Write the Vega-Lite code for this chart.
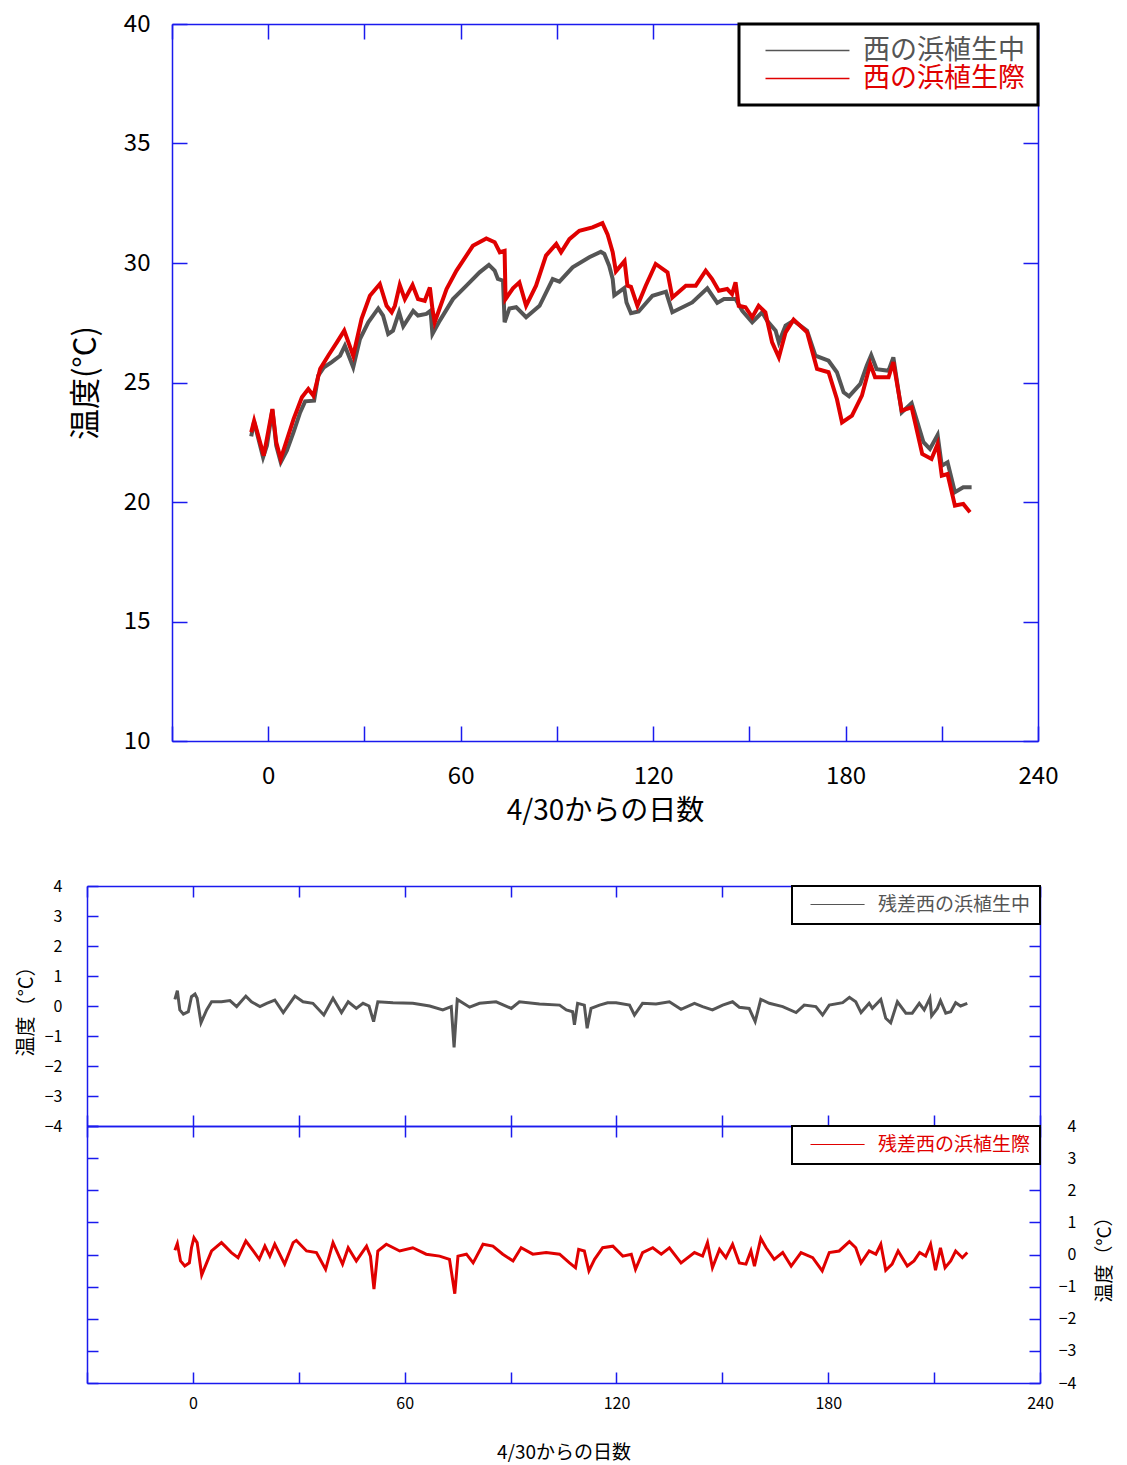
{
  "$schema": "https://vega.github.io/schema/vega-lite/v6.json",
  "padding": {"left": 16, "top": 12, "right": 0, "bottom": 0},
  "background": "white",
  "config": {
    "view": {"stroke": null},
    "font": "Noto Sans CJK JP",
    "axis": {
      "domainColor": "#1a1aee", "tickColor": "#1a1aee", "domainWidth": 1.5, "tickWidth": 1.5,
      "grid": false, "labelColor": "black", "titleColor": "black", "titleFontWeight": "normal",
      "labelFont": "Noto Sans CJK JP", "titleFont": "Noto Sans CJK JP", "labelFlush": false, "labelOverlap": false
    },
    "legend": {"labelFont": "Noto Sans CJK JP"}
  },
  "datasets": {
    "temp": [
      {"d": -5.3, "t": 22.75, "s": "西の浜植生中"}, {"d": -4.4, "t": 23.36, "s": "西の浜植生中"}, {"d": -1.6, "t": 21.87, "s": "西の浜植生中"},
      {"d": -0.4, "t": 22.36, "s": "西の浜植生中"}, {"d": 1.3, "t": 23.86, "s": "西の浜植生中"}, {"d": 2.5, "t": 22.36, "s": "西の浜植生中"},
      {"d": 3.9, "t": 21.66, "s": "西の浜植生中"}, {"d": 5.8, "t": 22.15, "s": "西の浜植生中"}, {"d": 7.9, "t": 22.92, "s": "西の浜植生中"},
      {"d": 9.95, "t": 23.75, "s": "西の浜植生中"}, {"d": 11.5, "t": 24.21, "s": "西の浜植生中"}, {"d": 14.3, "t": 24.24, "s": "西の浜植生中"},
      {"d": 15.6, "t": 25.29, "s": "西の浜植生中"}, {"d": 17.4, "t": 25.64, "s": "西の浜植生中"}, {"d": 19.8, "t": 25.85, "s": "西の浜植生中"},
      {"d": 22.4, "t": 26.12, "s": "西の浜植生中"}, {"d": 23.9, "t": 26.54, "s": "西の浜植生中"}, {"d": 26.5, "t": 25.64, "s": "西の浜植生中"},
      {"d": 28.6, "t": 26.82, "s": "西の浜植生中"}, {"d": 31.2, "t": 27.52, "s": "西の浜植生中"}, {"d": 34.3, "t": 28.1, "s": "西の浜植生中"},
      {"d": 35.8, "t": 27.8, "s": "西の浜植生中"}, {"d": 37.4, "t": 27.03, "s": "西の浜植生中"}, {"d": 38.9, "t": 27.17, "s": "西の浜植生中"},
      {"d": 40.8, "t": 27.94, "s": "西の浜植生中"}, {"d": 42.1, "t": 27.35, "s": "西の浜植生中"}, {"d": 45.2, "t": 28.0, "s": "西の浜植生中"},
      {"d": 46.7, "t": 27.8, "s": "西の浜植生中"}, {"d": 49.3, "t": 27.87, "s": "西の浜植生中"}, {"d": 50.6, "t": 28.0, "s": "西の浜植生中"},
      {"d": 51.2, "t": 27.03, "s": "西の浜植生中"}, {"d": 53.5, "t": 27.59, "s": "西の浜植生中"}, {"d": 57.6, "t": 28.49, "s": "西の浜植生中"},
      {"d": 61.8, "t": 29.05, "s": "西の浜植生中"}, {"d": 65.9, "t": 29.61, "s": "西の浜植生中"}, {"d": 68.8, "t": 29.92, "s": "西の浜植生中"},
      {"d": 70.6, "t": 29.68, "s": "西の浜植生中"}, {"d": 71.6, "t": 29.33, "s": "西の浜植生中"}, {"d": 73.2, "t": 29.26, "s": "西の浜植生中"},
      {"d": 73.7, "t": 27.52, "s": "西の浜植生中"}, {"d": 75.2, "t": 28.1, "s": "西の浜植生中"}, {"d": 77.3, "t": 28.15, "s": "西の浜植生中"},
      {"d": 80.4, "t": 27.73, "s": "西の浜植生中"}, {"d": 84.6, "t": 28.21, "s": "西の浜植生中"}, {"d": 88.7, "t": 29.33, "s": "西の浜植生中"},
      {"d": 90.8, "t": 29.22, "s": "西の浜植生中"}, {"d": 94.9, "t": 29.82, "s": "西の浜植生中"}, {"d": 100.1, "t": 30.24, "s": "西の浜植生中"},
      {"d": 103.7, "t": 30.47, "s": "西の浜植生中"}, {"d": 104.8, "t": 30.38, "s": "西の浜植生中"}, {"d": 106.3, "t": 29.89, "s": "西の浜植生中"},
      {"d": 107.4, "t": 29.33, "s": "西の浜植生中"}, {"d": 107.9, "t": 28.65, "s": "西の浜植生中"}, {"d": 111.0, "t": 28.95, "s": "西の浜植生中"},
      {"d": 111.7, "t": 28.35, "s": "西の浜植生中"}, {"d": 113.1, "t": 27.9, "s": "西の浜植生中"}, {"d": 115.5, "t": 27.97, "s": "西の浜植生中"},
      {"d": 119.8, "t": 28.63, "s": "西の浜植生中"}, {"d": 124.0, "t": 28.8, "s": "西の浜植生中"}, {"d": 126.0, "t": 27.94, "s": "西の浜植生中"},
      {"d": 132.2, "t": 28.35, "s": "西の浜植生中"}, {"d": 136.9, "t": 28.94, "s": "西の浜植生中"}, {"d": 140.0, "t": 28.33, "s": "西の浜植生中"},
      {"d": 142.1, "t": 28.49, "s": "西の浜植生中"}, {"d": 145.7, "t": 28.49, "s": "西の浜植生中"}, {"d": 147.8, "t": 28.0, "s": "西の浜植生中"},
      {"d": 150.9, "t": 27.52, "s": "西の浜植生中"}, {"d": 154.0, "t": 27.94, "s": "西の浜植生中"}, {"d": 155.5, "t": 27.59, "s": "西の浜植生中"},
      {"d": 158.2, "t": 27.17, "s": "西の浜植生中"}, {"d": 159.2, "t": 26.68, "s": "西の浜植生中"}, {"d": 161.3, "t": 27.38, "s": "西の浜植生中"},
      {"d": 163.8, "t": 27.59, "s": "西の浜植生中"}, {"d": 168.0, "t": 27.17, "s": "西の浜植生中"}, {"d": 170.6, "t": 26.12, "s": "西の浜植生中"},
      {"d": 174.7, "t": 25.91, "s": "西の浜植生中"}, {"d": 177.3, "t": 25.43, "s": "西の浜植生中"}, {"d": 179.4, "t": 24.59, "s": "西の浜植生中"},
      {"d": 181.1, "t": 24.42, "s": "西の浜植生中"}, {"d": 184.6, "t": 24.94, "s": "西の浜植生中"}, {"d": 186.6, "t": 25.7, "s": "西の浜植生中"},
      {"d": 188.0, "t": 26.15, "s": "西の浜植生中"}, {"d": 189.7, "t": 25.56, "s": "西の浜植生中"}, {"d": 193.4, "t": 25.49, "s": "西の浜植生中"},
      {"d": 194.9, "t": 26.05, "s": "西の浜植生中"}, {"d": 197.5, "t": 23.75, "s": "西の浜植生中"}, {"d": 200.6, "t": 24.14, "s": "西の浜植生中"},
      {"d": 204.3, "t": 22.5, "s": "西の浜植生中"}, {"d": 206.3, "t": 22.22, "s": "西の浜植生中"}, {"d": 208.7, "t": 22.8, "s": "西の浜植生中"},
      {"d": 210.0, "t": 21.52, "s": "西の浜植生中"}, {"d": 211.8, "t": 21.66, "s": "西の浜植生中"}, {"d": 214.1, "t": 20.41, "s": "西の浜植生中"},
      {"d": 216.7, "t": 20.62, "s": "西の浜植生中"}, {"d": 219.3, "t": 20.62, "s": "西の浜植生中"},
      {"d": -5.3, "t": 22.92, "s": "西の浜植生際"}, {"d": -4.4, "t": 23.4, "s": "西の浜植生際"}, {"d": -1.4, "t": 21.94, "s": "西の浜植生際"},
      {"d": 1.3, "t": 23.89, "s": "西の浜植生際"}, {"d": 2.5, "t": 22.5, "s": "西の浜植生際"}, {"d": 3.9, "t": 21.8, "s": "西の浜植生際"},
      {"d": 7.9, "t": 23.47, "s": "西の浜植生際"}, {"d": 10.5, "t": 24.38, "s": "西の浜植生際"}, {"d": 12.5, "t": 24.73, "s": "西の浜植生際"},
      {"d": 14.1, "t": 24.45, "s": "西の浜植生際"}, {"d": 16.2, "t": 25.57, "s": "西の浜植生際"}, {"d": 18.7, "t": 26.12, "s": "西の浜植生際"},
      {"d": 21.4, "t": 26.68, "s": "西の浜植生際"}, {"d": 23.7, "t": 27.17, "s": "西の浜植生際"}, {"d": 26.5, "t": 26.12, "s": "西の浜植生際"},
      {"d": 29.1, "t": 27.66, "s": "西の浜植生際"}, {"d": 31.7, "t": 28.63, "s": "西の浜植生際"}, {"d": 34.8, "t": 29.12, "s": "西の浜植生際"},
      {"d": 36.9, "t": 28.21, "s": "西の浜植生際"}, {"d": 38.5, "t": 27.94, "s": "西の浜植生際"}, {"d": 39.5, "t": 28.21, "s": "西の浜植生際"},
      {"d": 41.0, "t": 29.08, "s": "西の浜植生際"}, {"d": 42.6, "t": 28.49, "s": "西の浜植生際"}, {"d": 45.0, "t": 29.08, "s": "西の浜植生際"},
      {"d": 46.7, "t": 28.49, "s": "西の浜植生際"}, {"d": 48.8, "t": 28.42, "s": "西の浜植生際"}, {"d": 50.4, "t": 28.98, "s": "西の浜植生際"},
      {"d": 51.2, "t": 28.08, "s": "西の浜植生際"}, {"d": 51.9, "t": 27.52, "s": "西の浜植生際"}, {"d": 55.6, "t": 28.91, "s": "西の浜植生際"},
      {"d": 58.7, "t": 29.68, "s": "西の浜植生際"}, {"d": 63.8, "t": 30.72, "s": "西の浜植生際"}, {"d": 68.0, "t": 31.03, "s": "西の浜植生際"},
      {"d": 70.6, "t": 30.87, "s": "西の浜植生際"}, {"d": 72.2, "t": 30.45, "s": "西の浜植生際"}, {"d": 73.7, "t": 30.51, "s": "西の浜植生際"},
      {"d": 74.0, "t": 28.49, "s": "西の浜植生際"}, {"d": 76.3, "t": 28.94, "s": "西の浜植生際"}, {"d": 78.3, "t": 29.19, "s": "西の浜植生際"},
      {"d": 80.4, "t": 28.21, "s": "西の浜植生際"}, {"d": 83.5, "t": 29.05, "s": "西の浜植生際"}, {"d": 86.6, "t": 30.31, "s": "西の浜植生際"},
      {"d": 89.8, "t": 30.8, "s": "西の浜植生際"}, {"d": 91.3, "t": 30.45, "s": "西の浜植生際"}, {"d": 93.9, "t": 31.0, "s": "西の浜植生際"},
      {"d": 97.0, "t": 31.35, "s": "西の浜植生際"}, {"d": 101.1, "t": 31.49, "s": "西の浜植生際"}, {"d": 104.2, "t": 31.67, "s": "西の浜植生際"},
      {"d": 105.8, "t": 31.2, "s": "西の浜植生際"}, {"d": 107.4, "t": 30.45, "s": "西の浜植生際"}, {"d": 108.4, "t": 29.65, "s": "西の浜植生際"},
      {"d": 111.1, "t": 30.08, "s": "西の浜植生際"}, {"d": 112.0, "t": 29.05, "s": "西の浜植生際"}, {"d": 113.1, "t": 29.0, "s": "西の浜植生際"},
      {"d": 115.1, "t": 28.21, "s": "西の浜植生際"}, {"d": 117.7, "t": 29.05, "s": "西の浜植生際"}, {"d": 120.8, "t": 29.96, "s": "西の浜植生際"},
      {"d": 124.5, "t": 29.61, "s": "西の浜植生際"}, {"d": 126.0, "t": 28.56, "s": "西の浜植生際"}, {"d": 130.2, "t": 29.05, "s": "西の浜植生際"},
      {"d": 133.3, "t": 29.05, "s": "西の浜植生際"}, {"d": 136.4, "t": 29.68, "s": "西の浜植生際"}, {"d": 138.4, "t": 29.33, "s": "西の浜植生際"},
      {"d": 140.5, "t": 28.84, "s": "西の浜植生際"}, {"d": 143.1, "t": 28.91, "s": "西の浜植生際"}, {"d": 144.6, "t": 28.7, "s": "西の浜植生際"},
      {"d": 145.7, "t": 29.19, "s": "西の浜植生際"}, {"d": 146.7, "t": 28.21, "s": "西の浜植生際"}, {"d": 148.8, "t": 28.15, "s": "西の浜植生際"},
      {"d": 150.9, "t": 27.73, "s": "西の浜植生際"}, {"d": 152.9, "t": 28.21, "s": "西の浜植生際"}, {"d": 155.0, "t": 27.94, "s": "西の浜植生際"},
      {"d": 157.1, "t": 26.68, "s": "西の浜植生際"}, {"d": 159.2, "t": 26.05, "s": "西の浜植生際"}, {"d": 161.3, "t": 27.1, "s": "西の浜植生際"},
      {"d": 163.8, "t": 27.63, "s": "西の浜植生際"}, {"d": 168.0, "t": 27.1, "s": "西の浜植生際"}, {"d": 171.1, "t": 25.57, "s": "西の浜植生際"},
      {"d": 174.7, "t": 25.43, "s": "西の浜植生際"}, {"d": 177.3, "t": 24.31, "s": "西の浜植生際"}, {"d": 178.9, "t": 23.33, "s": "西の浜植生際"},
      {"d": 182.0, "t": 23.61, "s": "西の浜植生際"}, {"d": 185.1, "t": 24.45, "s": "西の浜植生際"}, {"d": 187.7, "t": 25.77, "s": "西の浜植生際"},
      {"d": 189.2, "t": 25.22, "s": "西の浜植生際"}, {"d": 193.4, "t": 25.22, "s": "西の浜植生際"}, {"d": 194.9, "t": 25.85, "s": "西の浜植生際"},
      {"d": 197.5, "t": 23.82, "s": "西の浜植生際"}, {"d": 200.6, "t": 23.96, "s": "西の浜植生際"}, {"d": 203.9, "t": 22.01, "s": "西の浜植生際"},
      {"d": 206.8, "t": 21.8, "s": "西の浜植生際"}, {"d": 208.7, "t": 22.43, "s": "西の浜植生際"}, {"d": 210.0, "t": 21.1, "s": "西の浜植生際"},
      {"d": 211.8, "t": 21.17, "s": "西の浜植生際"}, {"d": 214.1, "t": 19.85, "s": "西の浜植生際"}, {"d": 216.7, "t": 19.92, "s": "西の浜植生際"},
      {"d": 218.8, "t": 19.57, "s": "西の浜植生際"}
    ],
    "res1": [
      {"d": -5.1, "v": 0.22, "s": "残差西の浜植生中"}, {"d": -4.4, "v": 0.51, "s": "残差西の浜植生中"}, {"d": -3.7, "v": -0.13, "s": "残差西の浜植生中"},
      {"d": -2.7, "v": -0.27, "s": "残差西の浜植生中"}, {"d": -1.3, "v": -0.19, "s": "残差西の浜植生中"}, {"d": -0.4, "v": 0.31, "s": "残差西の浜植生中"},
      {"d": 0.6, "v": 0.4, "s": "残差西の浜植生中"}, {"d": 1.2, "v": 0.26, "s": "残差西の浜植生中"}, {"d": 2.3, "v": -0.56, "s": "残差西の浜植生中"},
      {"d": 3.9, "v": -0.13, "s": "残差西の浜植生中"}, {"d": 5.3, "v": 0.14, "s": "残差西の浜植生中"}, {"d": 8.1, "v": 0.14, "s": "残差西の浜植生中"},
      {"d": 10.5, "v": 0.18, "s": "残差西の浜植生中"}, {"d": 12.4, "v": -0.02, "s": "残差西の浜植生中"}, {"d": 15.0, "v": 0.33, "s": "残差西の浜植生中"},
      {"d": 16.6, "v": 0.14, "s": "残差西の浜植生中"}, {"d": 19.0, "v": -0.02, "s": "残差西の浜植生中"}, {"d": 20.9, "v": 0.09, "s": "残差西の浜植生中"},
      {"d": 23.2, "v": 0.2, "s": "残差西の浜植生中"}, {"d": 25.6, "v": -0.22, "s": "残差西の浜植生中"}, {"d": 28.9, "v": 0.33, "s": "残差西の浜植生中"},
      {"d": 31.2, "v": 0.14, "s": "残差西の浜植生中"}, {"d": 34.0, "v": 0.09, "s": "残差西の浜植生中"}, {"d": 37.1, "v": -0.3, "s": "残差西の浜植生中"},
      {"d": 39.7, "v": 0.26, "s": "残差西の浜植生中"}, {"d": 42.1, "v": -0.22, "s": "残差西の浜植生中"}, {"d": 44.0, "v": 0.14, "s": "残差西の浜植生中"},
      {"d": 46.3, "v": -0.08, "s": "残差西の浜植生中"}, {"d": 48.2, "v": 0.09, "s": "残差西の浜植生中"}, {"d": 49.9, "v": 0.0, "s": "残差西の浜植生中"},
      {"d": 51.2, "v": -0.52, "s": "残差西の浜植生中"}, {"d": 52.4, "v": 0.14, "s": "残差西の浜植生中"}, {"d": 56.7, "v": 0.11, "s": "残差西の浜植生中"},
      {"d": 62.3, "v": 0.09, "s": "残差西の浜植生中"}, {"d": 67.1, "v": 0.0, "s": "残差西の浜植生中"}, {"d": 70.8, "v": -0.13, "s": "残差西の浜植生中"},
      {"d": 73.2, "v": -0.02, "s": "残差西の浜植生中"}, {"d": 74.0, "v": -1.38, "s": "残差西の浜植生中"}, {"d": 74.9, "v": 0.22, "s": "残差西の浜植生中"},
      {"d": 78.4, "v": -0.04, "s": "残差西の浜植生中"}, {"d": 81.2, "v": 0.09, "s": "残差西の浜植生中"}, {"d": 85.9, "v": 0.14, "s": "残差西の浜植生中"},
      {"d": 90.2, "v": -0.08, "s": "残差西の浜植生中"}, {"d": 92.5, "v": 0.14, "s": "残差西の浜植生中"}, {"d": 98.2, "v": 0.07, "s": "残差西の浜植生中"},
      {"d": 103.9, "v": 0.03, "s": "残差西の浜植生中"}, {"d": 105.8, "v": -0.13, "s": "残差西の浜植生中"}, {"d": 107.6, "v": -0.19, "s": "残差西の浜植生中"},
      {"d": 108.1, "v": -0.63, "s": "残差西の浜植生中"}, {"d": 109.0, "v": 0.09, "s": "残差西の浜植生中"}, {"d": 110.9, "v": 0.03, "s": "残差西の浜植生中"},
      {"d": 111.7, "v": -0.74, "s": "残差西の浜植生中"}, {"d": 112.8, "v": -0.08, "s": "残差西の浜植生中"}, {"d": 115.2, "v": 0.03, "s": "残差西の浜植生中"},
      {"d": 117.5, "v": 0.11, "s": "残差西の浜植生中"}, {"d": 119.9, "v": 0.11, "s": "残差西の浜植生中"}, {"d": 123.7, "v": 0.03, "s": "残差西の浜植生中"},
      {"d": 125.1, "v": -0.3, "s": "残差西の浜植生中"}, {"d": 127.4, "v": 0.09, "s": "残差西の浜植生中"}, {"d": 131.2, "v": 0.07, "s": "残差西の浜植生中"},
      {"d": 135.0, "v": 0.14, "s": "残差西の浜植生中"}, {"d": 138.3, "v": -0.11, "s": "残差西の浜植生中"}, {"d": 142.1, "v": 0.09, "s": "残差西の浜植生中"},
      {"d": 144.4, "v": -0.02, "s": "残差西の浜植生中"}, {"d": 147.2, "v": -0.13, "s": "残差西の浜植生中"}, {"d": 150.1, "v": 0.03, "s": "残差西の浜植生中"},
      {"d": 152.9, "v": 0.14, "s": "残差西の浜植生中"}, {"d": 154.8, "v": -0.04, "s": "残差西の浜植生中"}, {"d": 157.6, "v": -0.08, "s": "残差西の浜植生中"},
      {"d": 159.3, "v": -0.52, "s": "残差西の浜植生中"}, {"d": 160.9, "v": 0.22, "s": "残差西の浜植生中"}, {"d": 163.3, "v": 0.09, "s": "残差西の浜植生中"},
      {"d": 167.1, "v": -0.02, "s": "残差西の浜植生中"}, {"d": 170.9, "v": -0.22, "s": "残差西の浜植生中"}, {"d": 173.2, "v": 0.03, "s": "残差西の浜植生中"},
      {"d": 176.5, "v": -0.02, "s": "残差西の浜植生中"}, {"d": 178.4, "v": -0.3, "s": "残差西の浜植生中"}, {"d": 180.3, "v": 0.03, "s": "残差西の浜植生中"},
      {"d": 184.1, "v": 0.11, "s": "残差西の浜植生中"}, {"d": 186.0, "v": 0.29, "s": "残差西の浜植生中"}, {"d": 187.8, "v": 0.14, "s": "残差西の浜植生中"},
      {"d": 189.3, "v": -0.22, "s": "残差西の浜植生中"}, {"d": 191.6, "v": 0.09, "s": "残差西の浜植生中"}, {"d": 192.5, "v": -0.08, "s": "残差西の浜植生中"},
      {"d": 194.9, "v": 0.22, "s": "残差西の浜植生中"}, {"d": 196.3, "v": -0.41, "s": "残差西の浜植生中"}, {"d": 197.7, "v": -0.56, "s": "残差西の浜植生中"},
      {"d": 199.6, "v": 0.14, "s": "残差西の浜植生中"}, {"d": 202.0, "v": -0.24, "s": "残差西の浜植生中"}, {"d": 203.8, "v": -0.24, "s": "残差西の浜植生中"},
      {"d": 205.8, "v": 0.09, "s": "残差西の浜植生中"}, {"d": 207.2, "v": -0.13, "s": "残差西の浜植生中"}, {"d": 208.8, "v": 0.26, "s": "残差西の浜植生中"},
      {"d": 209.3, "v": -0.33, "s": "残差西の浜植生中"}, {"d": 210.9, "v": -0.08, "s": "残差西の浜植生中"}, {"d": 211.8, "v": 0.18, "s": "残差西の浜植生中"},
      {"d": 213.3, "v": -0.24, "s": "残差西の浜植生中"}, {"d": 214.7, "v": -0.19, "s": "残差西の浜植生中"}, {"d": 216.1, "v": 0.11, "s": "残差西の浜植生中"},
      {"d": 217.5, "v": 0.0, "s": "残差西の浜植生中"}, {"d": 219.4, "v": 0.09, "s": "残差西の浜植生中"}
    ],
    "res2": [
      {"d": -5.1, "v": 0.13, "s": "残差西の浜植生際"}, {"d": -4.4, "v": 0.34, "s": "残差西の浜植生際"}, {"d": -3.5, "v": -0.2, "s": "残差西の浜植生際"},
      {"d": -2.3, "v": -0.36, "s": "残差西の浜植生際"}, {"d": -1.0, "v": -0.26, "s": "残差西の浜植生際"}, {"d": -0.4, "v": 0.21, "s": "残差西の浜植生際"},
      {"d": 0.3, "v": 0.52, "s": "残差西の浜植生際"}, {"d": 1.2, "v": 0.37, "s": "残差西の浜植生際"}, {"d": 2.5, "v": -0.64, "s": "残差西の浜植生際"},
      {"d": 3.9, "v": -0.26, "s": "残差西の浜植生際"}, {"d": 5.3, "v": 0.11, "s": "残差西の浜植生際"}, {"d": 8.1, "v": 0.37, "s": "残差西の浜植生際"},
      {"d": 9.1, "v": 0.26, "s": "残差西の浜植生際"}, {"d": 10.9, "v": 0.06, "s": "残差西の浜植生際"}, {"d": 12.8, "v": -0.1, "s": "残差西の浜植生際"},
      {"d": 15.0, "v": 0.42, "s": "残差西の浜植生際"}, {"d": 17.1, "v": 0.11, "s": "残差西の浜植生際"}, {"d": 18.8, "v": -0.15, "s": "残差西の浜植生際"},
      {"d": 20.4, "v": 0.26, "s": "残差西の浜植生際"}, {"d": 21.8, "v": -0.05, "s": "残差西の浜植生際"}, {"d": 23.2, "v": 0.32, "s": "残差西の浜植生際"},
      {"d": 26.0, "v": -0.3, "s": "残差西の浜植生際"}, {"d": 28.4, "v": 0.37, "s": "残差西の浜植生際"}, {"d": 29.3, "v": 0.44, "s": "残差西の浜植生際"},
      {"d": 32.2, "v": 0.11, "s": "残差西の浜植生際"}, {"d": 35.0, "v": 0.06, "s": "残差西の浜植生際"}, {"d": 37.6, "v": -0.46, "s": "残差西の浜植生際"},
      {"d": 39.7, "v": 0.37, "s": "残差西の浜植生際"}, {"d": 42.4, "v": -0.3, "s": "残差西の浜植生際"}, {"d": 44.0, "v": 0.21, "s": "残差西の浜植生際"},
      {"d": 46.3, "v": -0.2, "s": "残差西の浜植生際"}, {"d": 49.2, "v": 0.26, "s": "残差西の浜植生際"}, {"d": 50.3, "v": -0.05, "s": "残差西の浜植生際"},
      {"d": 51.3, "v": -1.08, "s": "残差西の浜植生際"}, {"d": 52.4, "v": 0.11, "s": "残差西の浜植生際"}, {"d": 54.8, "v": 0.32, "s": "残差西の浜植生際"},
      {"d": 58.6, "v": 0.11, "s": "残差西の浜植生際"}, {"d": 62.3, "v": 0.21, "s": "残差西の浜植生際"}, {"d": 66.1, "v": 0.01, "s": "残差西の浜植生際"},
      {"d": 69.9, "v": -0.05, "s": "残差西の浜植生際"}, {"d": 72.7, "v": -0.15, "s": "残差西の浜植生際"}, {"d": 74.2, "v": -1.22, "s": "残差西の浜植生際"},
      {"d": 75.1, "v": -0.05, "s": "残差西の浜植生際"}, {"d": 77.5, "v": 0.01, "s": "残差西の浜植生際"}, {"d": 79.4, "v": -0.26, "s": "残差西の浜植生際"},
      {"d": 82.2, "v": 0.32, "s": "残差西の浜植生際"}, {"d": 85.0, "v": 0.26, "s": "残差西の浜植生際"}, {"d": 87.8, "v": 0.01, "s": "残差西の浜植生際"},
      {"d": 90.7, "v": -0.2, "s": "残差西の浜植生際"}, {"d": 93.0, "v": 0.21, "s": "残差西の浜植生際"}, {"d": 96.3, "v": 0.01, "s": "残差西の浜植生際"},
      {"d": 100.1, "v": 0.06, "s": "残差西の浜植生際"}, {"d": 103.9, "v": 0.01, "s": "残差西の浜植生際"}, {"d": 106.7, "v": -0.26, "s": "残差西の浜植生際"},
      {"d": 108.4, "v": -0.41, "s": "残差西の浜植生際"}, {"d": 109.3, "v": 0.16, "s": "残差西の浜植生際"}, {"d": 110.9, "v": 0.11, "s": "残差西の浜植生際"},
      {"d": 112.2, "v": -0.51, "s": "残差西の浜植生際"}, {"d": 113.8, "v": -0.15, "s": "残差西の浜植生際"}, {"d": 116.1, "v": 0.21, "s": "残差西の浜植生際"},
      {"d": 119.0, "v": 0.26, "s": "残差西の浜植生際"}, {"d": 121.8, "v": -0.05, "s": "残差西の浜植生際"}, {"d": 124.2, "v": 0.01, "s": "残差西の浜植生際"},
      {"d": 125.4, "v": -0.46, "s": "残差西の浜植生際"}, {"d": 127.4, "v": 0.06, "s": "残差西の浜植生際"}, {"d": 130.3, "v": 0.21, "s": "残差西の浜植生際"},
      {"d": 132.7, "v": 0.01, "s": "残差西の浜植生際"}, {"d": 135.0, "v": 0.21, "s": "残差西の浜植生際"}, {"d": 138.3, "v": -0.26, "s": "残差西の浜植生際"},
      {"d": 142.1, "v": 0.06, "s": "残差西の浜植生際"}, {"d": 144.4, "v": -0.05, "s": "残差西の浜植生際"}, {"d": 145.8, "v": 0.37, "s": "残差西の浜植生際"},
      {"d": 147.2, "v": -0.41, "s": "残差西の浜植生際"}, {"d": 149.2, "v": 0.16, "s": "残差西の浜植生際"}, {"d": 151.0, "v": -0.1, "s": "残差西の浜植生際"},
      {"d": 152.9, "v": 0.32, "s": "残差西の浜植生際"}, {"d": 154.8, "v": -0.26, "s": "残差西の浜植生際"}, {"d": 156.7, "v": -0.3, "s": "残差西の浜植生際"},
      {"d": 158.1, "v": 0.11, "s": "残差西の浜植生際"}, {"d": 159.1, "v": -0.36, "s": "残差西の浜植生際"}, {"d": 160.9, "v": 0.5, "s": "残差西の浜植生際"},
      {"d": 162.4, "v": 0.21, "s": "残差西の浜植生際"}, {"d": 164.7, "v": -0.15, "s": "残差西の浜植生際"}, {"d": 167.1, "v": 0.06, "s": "残差西の浜植生際"},
      {"d": 169.5, "v": -0.36, "s": "残差西の浜植生際"}, {"d": 172.3, "v": 0.06, "s": "残差西の浜植生際"}, {"d": 175.6, "v": -0.1, "s": "残差西の浜植生際"},
      {"d": 178.3, "v": -0.51, "s": "残差西の浜植生際"}, {"d": 180.3, "v": 0.06, "s": "残差西の浜植生際"}, {"d": 183.1, "v": 0.11, "s": "残差西の浜植生際"},
      {"d": 186.0, "v": 0.4, "s": "残差西の浜植生際"}, {"d": 187.8, "v": 0.21, "s": "残差西の浜植生際"}, {"d": 189.3, "v": -0.26, "s": "残差西の浜植生際"},
      {"d": 191.6, "v": 0.11, "s": "残差西の浜植生際"}, {"d": 193.5, "v": 0.01, "s": "残差西の浜植生際"}, {"d": 194.9, "v": 0.32, "s": "残差西の浜植生際"},
      {"d": 196.3, "v": -0.49, "s": "残差西の浜植生際"}, {"d": 198.1, "v": -0.3, "s": "残差西の浜植生際"}, {"d": 199.8, "v": 0.11, "s": "残差西の浜植生際"},
      {"d": 202.4, "v": -0.36, "s": "残差西の浜植生際"}, {"d": 204.3, "v": -0.2, "s": "残差西の浜植生際"}, {"d": 205.9, "v": 0.06, "s": "残差西の浜植生際"},
      {"d": 207.6, "v": -0.05, "s": "残差西の浜植生際"}, {"d": 209.0, "v": 0.32, "s": "残差西の浜植生際"}, {"d": 210.4, "v": -0.49, "s": "残差西の浜植生際"},
      {"d": 211.8, "v": 0.21, "s": "残差西の浜植生際"}, {"d": 213.1, "v": -0.41, "s": "残差西の浜植生際"}, {"d": 214.7, "v": -0.2, "s": "残差西の浜植生際"},
      {"d": 216.1, "v": 0.11, "s": "残差西の浜植生際"}, {"d": 218.0, "v": -0.1, "s": "残差西の浜植生際"}, {"d": 219.4, "v": 0.06, "s": "残差西の浜植生際"}
    ]
  },
  "concat": [
    {
      "hconcat": [
        {"width": 85, "height": 717, "data": {"values": []}, "mark": "point"},
        {
          "width": 866,
          "height": 717,
          "data": {"name": "temp"},
          "layer": [
            {
              "mark": {"type": "line", "strokeWidth": 4},
              "encoding": {
                "x": {"field": "d", "type": "quantitative", "scale": {"domain": [-30, 240], "nice": false, "zero": false},
                  "axis": {"orient": "bottom", "values": [-30, 0, 30, 60, 90, 120, 150, 180, 210, 240],
                    "labelExpr": "datum.value >= 0 && datum.value % 60 == 0 ? datum.label : ''",
                    "tickSize": -15, "labelPadding": 38, "labelFontSize": 24, "title": "4/30からの日数", "titleFontSize": 28, "titlePadding": 9}},
                "y": {"field": "t", "type": "quantitative", "scale": {"domain": [10, 40], "nice": false, "zero": false},
                  "axis": {"orient": "left", "values": [10, 15, 20, 25, 30, 35, 40], "tickSize": -15, "labelPadding": 37, "labelFontSize": 24,
                    "title": "温度(°C)", "titleFontSize": 31, "titlePadding": 21}},
                "color": {"field": "s", "type": "nominal",
                  "scale": {"domain": ["西の浜植生中", "西の浜植生際"], "range": ["#555555", "#e00000"]},
                  "legend": {"orient": "top-right", "offset": 0, "title": null, "strokeColor": "black", "fillColor": "white",
                    "padding": 13, "labelFontSize": 27, "labelLimit": 0, "symbolType": "M0,0H10", "symbolSize": 282,
                    "symbolStrokeWidth": 1.5, "labelOffset": 84, "rowPadding": 0,
                    "encode": {
                      "legend": {"update": {"strokeWidth": {"value": 3}}},
                      "labels": {"update": {"fill": {"signal": "datum.label == '西の浜植生際' ? '#e00000' : '#555555'"}}}
                    }}}
              }
            },
            {
              "mark": {"type": "line", "opacity": 0},
              "encoding": {
                "x": {"field": "d", "type": "quantitative",
                  "axis": {"orient": "top", "values": [-30, 0, 30, 60, 90, 120, 150, 180, 210, 240], "labels": false, "tickSize": -15, "title": null}},
                "y": {"field": "t", "type": "quantitative",
                  "axis": {"orient": "right", "values": [10, 15, 20, 25, 30, 35, 40], "labels": false, "tickSize": -15, "title": null}},
                "detail": {"field": "s"}
              }
            }
          ],
          "resolve": {"axis": {"x": "independent", "y": "independent"}}
        }
      ],
      "spacing": 0,
      "bounds": "flush",
      "resolve": {"scale": {"color": "independent"}, "legend": {"color": "independent"}}
    },
    {
      "vconcat": [
        {
          "width": 953,
          "height": 240,
          "data": {"name": "res1"},
          "layer": [
            {
              "mark": {"type": "line", "strokeWidth": 3},
              "encoding": {
                "x": {"field": "d", "type": "quantitative", "scale": {"domain": [-30, 240], "nice": false, "zero": false},
                  "axis": {"orient": "bottom", "values": [-30, 0, 30, 60, 90, 120, 150, 180, 210, 240], "labels": false, "tickSize": -11, "title": null}},
                "y": {"field": "v", "type": "quantitative", "scale": {"domain": [-4, 4], "nice": false, "zero": false},
                  "axis": {"orient": "left", "values": [-4, -3, -2, -1, 0, 1, 2, 3, 4], "tickSize": -11, "labelPadding": 36, "labelFontSize": 16,
                    "labelExpr": "replace(datum.label, '-', '−')",
                    "title": "温度（°C）", "titleFontSize": 20, "titlePadding": 8}},
                "color": {"field": "s", "type": "nominal",
                  "scale": {"domain": ["残差西の浜植生中"], "range": ["#555555"]},
                  "legend": {"orient": "top-right", "offset": 0, "title": null, "strokeColor": "black", "fillColor": "white",
                    "padding": 9, "labelFontSize": 19, "labelLimit": 0, "labelColor": "#555555", "symbolType": "M0,0H10", "symbolSize": 117,
                    "symbolStrokeWidth": 1.2, "labelOffset": 58,
                    "encode": {"legend": {"update": {"strokeWidth": {"value": 2}}}}}}
              }
            },
            {
              "mark": {"type": "line", "opacity": 0},
              "encoding": {
                "x": {"field": "d", "type": "quantitative",
                  "axis": {"orient": "top", "values": [-30, 0, 30, 60, 90, 120, 150, 180, 210, 240], "labels": false, "tickSize": -11, "title": null}},
                "y": {"field": "v", "type": "quantitative",
                  "axis": {"orient": "right", "values": [-4, -3, -2, -1, 0, 1, 2, 3, 4], "labels": false, "tickSize": -11, "title": null}}
              }
            }
          ],
          "resolve": {"axis": {"x": "independent", "y": "independent"}}
        },
        {
          "width": 953,
          "height": 257,
          "data": {"name": "res2"},
          "layer": [
            {
              "mark": {"type": "line", "strokeWidth": 3},
              "encoding": {
                "x": {"field": "d", "type": "quantitative", "scale": {"domain": [-30, 240], "nice": false, "zero": false},
                  "axis": {"orient": "bottom", "values": [-30, 0, 30, 60, 90, 120, 150, 180, 210, 240],
                    "labelExpr": "datum.value >= 0 && datum.value % 60 == 0 ? datum.label : ''",
                    "tickSize": -11, "labelPadding": 23, "labelFontSize": 16, "title": "4/30からの日数", "titleFontSize": 19, "titlePadding": 32}},
                "y": {"field": "v", "type": "quantitative", "scale": {"domain": [-4, 4], "nice": false, "zero": false},
                  "axis": {"orient": "right", "values": [-4, -3, -2, -1, 0, 1, 2, 3, 4], "tickSize": -11, "labelPadding": 47, "labelAlign": "right", "labelFontSize": 16,
                    "labelExpr": "replace(datum.label, '-', '−')",
                    "title": "温度（°C）", "titleFontSize": 19, "titlePadding": 19, "titleAngle": 270, "titleBaseline": "top"}},
                "color": {"field": "s", "type": "nominal",
                  "scale": {"domain": ["残差西の浜植生際"], "range": ["#e00000"]},
                  "legend": {"orient": "top-right", "offset": 0, "title": null, "strokeColor": "black", "fillColor": "white",
                    "padding": 9, "labelFontSize": 19, "labelLimit": 0, "labelColor": "#e00000", "symbolType": "M0,0H10", "symbolSize": 117,
                    "symbolStrokeWidth": 1.2, "labelOffset": 58,
                    "encode": {"legend": {"update": {"strokeWidth": {"value": 2}}}}}}
              }
            },
            {
              "mark": {"type": "line", "opacity": 0},
              "encoding": {
                "x": {"field": "d", "type": "quantitative",
                  "axis": {"orient": "top", "values": [-30, 0, 30, 60, 90, 120, 150, 180, 210, 240], "labels": false, "tickSize": -11, "title": null}},
                "y": {"field": "v", "type": "quantitative",
                  "axis": {"orient": "left", "values": [-4, -3, -2, -1, 0, 1, 2, 3, 4], "labels": false, "tickSize": -11, "title": null}}
              }
            }
          ],
          "resolve": {"axis": {"x": "independent", "y": "independent"}}
        }
      ],
      "spacing": 0,
      "bounds": "flush",
      "resolve": {"scale": {"color": "independent"}, "legend": {"color": "independent"}}
    }
  ],
  "columns": 1,
  "spacing": 862,
  "bounds": "flush",
  "resolve": {"scale": {"color": "independent"}, "legend": {"color": "independent"}}
}
